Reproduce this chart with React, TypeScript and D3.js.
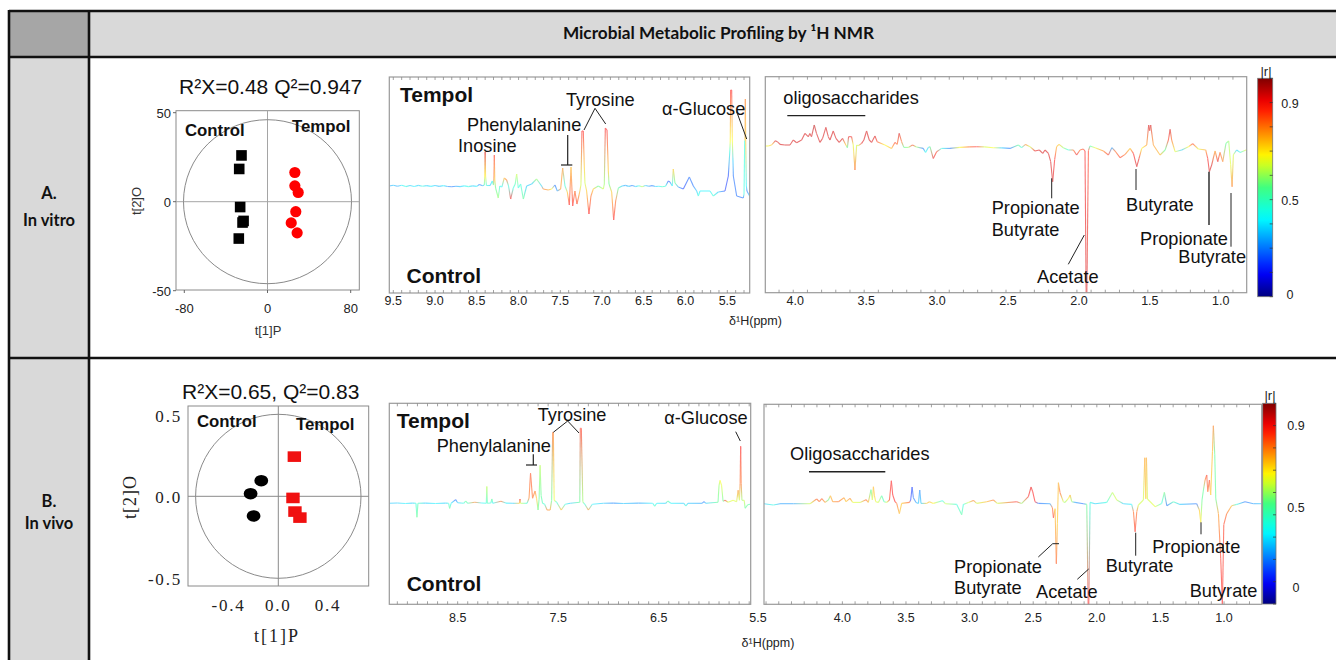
import React from "react";
import * as d3 from "d3";

type P = [number, number, number];

// ---- data: [ppm, intensity, |r| colour position]
const specA1: P[] = [
[9.548,0,.25],[9.5,.8,.3],[9.45,-.3,.25],[9.4,.8,.35],[9.35,-.6,.4],[9.3,.5,.3],[9.25,-.5,.35],[9.2,.6,.3],[9.15,-.2,.4],[9.1,.4,.3],[9.05,-.4,.35],[9,.5,.3],[8.95,-.4,.28],[8.9,.4,.35],[8.85,-.5,.25],[8.8,-.7,.2],[8.75,-.2,.25],[8.7,-.6,.3],[8.65,.1,.35],[8.6,-.6,.4],[8.55,.1,.3],[8.5,-.4,.35],[8.47,1.5,.2],[8.43,.3,.25],[8.41,1,.45],
[8.405,10,.66],[8.4,34,.92],[8.395,10,.66],[8.385,.5,.4],[8.34,.5,.3],[8.315,5,.35],[8.3,1,.5],[8.295,8,.8],[8.29,31,.86],[8.285,6,.7],[8.275,-2,.5],[8.243,-12,.55],[8.225,0,.4],[8.2,-1,.35],[8.171,8,.72],[8.143,6,.8],[8.12,0,.4],[8.095,-13,.88],[8.063,-2,.4],[8.04,2,.45],[8.023,12,.6],[8.003,-2,.4],[7.975,2,.4],[7.943,-13,.5],[7.903,0,.3],[7.843,2,.3],[7.784,7,.55],[7.724,0,.3],[7.704,-3,.78],[7.644,-4,.75],[7.604,-3,.65],[7.564,1,.2],[7.536,-5,.25],[7.496,-3,.75],[7.472,18,.76],[7.444,0,.4],[7.416,-6,.7],[7.392,-19,.88],[7.372,19,.72],[7.352,-20,.88],[7.325,-5,.8],[7.301,-18,.85],[7.273,-8,.75],[7.253,1,.6],[7.241,55,.88],[7.225,55,.88],[7.213,20,.7],[7.205,3,.6],[7.185,-5,.7],[7.157,-28,.88],[7.133,-10,.8],[7.105,-3,.7],[7.045,0,.5],[6.985,-3,.6],[6.973,2,.55],[6.961,58,.88],[6.941,56,.88],[6.925,15,.7],[6.917,2,.5],[6.885,-6,.7],[6.861,-34,.88],[6.837,-15,.8],[6.805,-2,.5],
[6.76,0,.3],[6.72,.6,.25],[6.68,-.4,.3],[6.64,.5,.2],[6.6,-.6,.3],[6.56,.3,.4],[6.52,-.8,.6],[6.48,.5,.3],[6.44,-.3,.25],[6.4,.4,.2],[6.36,-.5,.3],[6.32,-.3,.35],[6.28,-.7,.45],[6.24,-.2,.4],[6.207,5,.15],[6.187,4,.2],[6.159,0,.35],[6.147,17,.7],[6.127,3,.5],[6.087,-1,.25],[6.027,-3,.15],[5.955,9,.2],[5.907,0,.2],[5.867,-5,.3],[5.847,-10,.4],[5.827,-5,.35],[5.708,-5,.35],[5.668,-10,.42],[5.608,-6,.3],[5.528,-5,.15],[5.488,10,.15],[5.47,35,.4],[5.465,45,.64],[5.46,96,.88],[5.448,96,.88],[5.44,45,.64],[5.432,25,.3],[5.428,10,.2],[5.388,-10,.2],[5.309,-12,.2],[5.3,-8,.4],[5.292,45,.4],[5.288,46,.72],[5.284,87,.78],[5.28,46,.7],[5.272,0,.35],[5.265,-5,.2],[5.233,-10,.3]
];

const specA2: P[] = [
[4.197,.7,.62],[4.176,.7,.65],[4.153,1.7,.7],[4.125,6,.92],[4.106,4.3,.92],[4.094,2.3,.92],[4.059,1.7,.92],[4.023,1.7,.92],[4,6.7,.92],[3.976,4,.92],[3.941,6.7,.92],[3.918,13.3,.92],[3.894,10,.92],[3.883,13.3,.92],[3.871,10,.92],[3.852,21.7,.95],[3.836,13.3,.92],[3.812,4.3,.92],[3.793,8.3,.92],[3.77,19.3,.92],[3.753,10,.92],[3.741,6.7,.92],[3.718,15.7,.92],[3.699,8.3,.92],[3.676,4.3,.92],[3.652,8.3,.92],[3.629,1.7,.7],[3.618,-1,.5],[3.61,10,.9],[3.589,10,.9],[3.577,1.7,.62],[3.565,-23.3,.8],[3.553,1.7,.6],[3.542,1,.6],[3.518,3.3,.9],[3.502,6.7,.92],[3.483,15.7,.92],[3.464,6.7,.92],[3.448,4.3,.92],[3.424,10.7,.92],[3.408,5,.85],[3.354,1.7,.64],[3.307,-1.7,.72],[3.283,4.3,.85],[3.267,2.3,.8],[3.253,13.3,.92],[3.236,5,.8],[3.22,-.7,.5],[3.189,-.7,.55],[3.159,1.7,.85],[3.131,-.3,.55],[3.084,-1.7,.2],[3.067,-5.7,.38],[3.048,-.7,.3],[3.036,0,.5],[3.013,-11.7,.9],[2.989,-5,.85],[2.954,-1.7,.4],[2.895,-1.7,.2],[2.825,-.7,.64],[2.76,-.2,.8],[2.707,0,.88],[2.65,-.2,.6],[2.59,-1,.64],[2.53,-1.2,.3],[2.472,-1.7,.2],[2.413,1.7,.5],[2.39,-1,.4],[2.362,2.3,.78],[2.331,0,.6],[2.296,-4.3,.9],[2.265,-3.3,.92],[2.241,-6.7,.92],[2.225,-3.3,.92],[2.201,-6.7,.92],[2.185,-15,.92],[2.171,-35,.92],[2.157,-13,.88],[2.143,0,.72],[2.126,2.3,.7],[2.096,-1,.55],[2.06,-3.3,.4],[2.025,-3.3,.8],[2.002,-8.3,.9],[1.978,-3.3,.8],[1.955,-2.3,.85],[1.943,-4.3,.88],[1.935,-146,.92],[1.93,-146,.92],[1.919,-4,.85],[1.908,.7,.45],[1.872,-1,.62],[1.813,-4.3,.78],[1.778,-8.3,.85],[1.754,-1,.25],[1.731,-4.3,.8],[1.696,-11,.85],[1.66,-7.7,.8],[1.625,-1.7,.7],[1.602,-6.7,.88],[1.578,-20,.92],[1.562,-11.7,.9],[1.543,-1.7,.65],[1.508,1.7,.75],[1.494,21.7,.92],[1.487,16,.92],[1.48,21.7,.92],[1.461,1.7,.75],[1.414,-8.3,.72],[1.378,-3.3,.5],[1.355,6.7,.85],[1.343,17.3,.92],[1.332,6.7,.8],[1.308,-5,.62],[1.261,-3.3,.3],[1.214,0,.65],[1.184,3,.85],[1.144,-2.3,.62],[1.092,-3.3,.75],[1.078,-11.7,.88],[1.066,-25,.92],[1.05,-18.3,.92],[1.026,-4.3,.75],[1.007,-15,.9],[.991,-5.7,.8],[.972,-15,.78],[.949,3.3,.5],[.93,5.7,.55],[.916,-18,.62],[.906,-40,.78],[.897,-8,.6],[.874,-3.3,.3],[.85,-5.7,.4],[.803,-3,.65]
];

const specB1: P[] = [
[9.18,0,.3],[9.1,.3,.3],[9.02,-.2,.35],[8.95,.2,.3],[8.915,0,.4],[8.905,-14,.5],[8.895,0,.45],[8.82,.2,.3],[8.72,-.2,.35],[8.62,.2,.3],[8.59,0,.4],[8.58,-5,.5],[8.565,0,.35],[8.52,3.7,.18],[8.5,.5,.3],[8.44,0,.4],[8.42,2.3,.5],[8.4,0,.45],[8.33,1,.78],[8.26,.3,.35],[8.215,0,.4],[8.21,16.7,.58],[8.205,0,.45],[8.17,.3,.4],[8.16,4.3,.5],[8.15,0,.35],[8.07,2,.8],[8.02,.2,.35],[7.95,0,.3],[7.885,0,.7],[7.88,4.3,.88],[7.875,0,.6],[7.81,0,.4],[7.79,5,.78],[7.775,30,.83],[7.755,5,.8],[7.73,12.3,.78],[7.715,5,.7],[7.7,-6.7,.52],[7.69,4,.5],[7.68,38,.58],[7.67,8,.5],[7.655,0,.45],[7.635,-1,.4],[7.61,-6.7,.78],[7.58,-6.7,.75],[7.565,3,.5],[7.555,71,.8],[7.548,71,.78],[7.54,3,.62],[7.515,1,.4],[7.47,-6.7,.72],[7.43,-1,.4],[7.38,0,.3],[7.285,1,.5],[7.28,75,.86],[7.27,75,.86],[7.255,1.5,.55],[7.235,-1,.4],[7.2,-6.7,.76],[7.16,-1,.35],[7.05,0,.3],[6.95,.2,.22],[6.85,-.2,.3],[6.7,.2,.25],[6.56,0,.35],[6.54,-3,.45],[6.52,0,.35],[6.43,0,.3],[6.41,2.3,.5],[6.38,0,.35],[6.25,0,.3],[6.23,-2.7,.42],[6.21,0,.3],[6.07,0,.25],[6.05,1.7,.2],[6.03,0,.3],[5.91,1,.5],[5.9,18,.55],[5.89,23,.64],[5.875,18,.62],[5.86,2,.5],[5.84,3,.86],[5.81,1,.6],[5.76,3,.62],[5.725,1.5,.6],[5.71,13,.76],[5.697,3,.6],[5.69,20,.8],[5.685,57,.88],[5.68,20,.8],[5.672,3,.55],[5.65,3,.6],[5.64,-5,.5],[5.615,-1.5,.5],[5.59,-1,.45]
];

const specB2: P[] = [
[4.616,0,.3],[4.542,-1.3,.4],[4.49,0,.25],[4.385,0,.25],[4.254,0,.6],[4.202,4.7,.82],[4.181,2,.8],[4.162,5,.82],[4.136,1.3,.75],[4.11,3.7,.5],[4.094,8,.72],[4.076,2,.75],[4.031,2,.8],[3.987,6,.75],[3.971,2,.7],[3.94,5.3,.78],[3.919,1.3,.62],[3.861,1.3,.6],[3.814,4,.82],[3.796,1.3,.72],[3.775,14,.5],[3.764,3.7,.6],[3.756,17,.72],[3.748,8,.7],[3.738,2,.62],[3.717,1.3,.6],[3.691,8,.48],[3.672,2,.45],[3.651,1.3,.6],[3.63,3.7,.85],[3.615,23,.88],[3.604,8.7,.88],[3.586,2,.88],[3.573,.3,.8],[3.552,-10,.72],[3.534,.3,.7],[3.473,1.3,.82],[3.463,3.7,.15],[3.452,16.7,.15],[3.442,6,.2],[3.421,1.3,.25],[3.402,.3,.3],[3.392,13.7,.22],[3.382,.3,.3],[3.337,.3,.7],[3.316,2,.72],[3.285,.3,.65],[3.214,3,.38],[3.19,0,.6],[3.101,-.7,.4],[3.062,-11,.48],[3.049,-.7,.4],[3.01,1.3,.6],[2.97,3.3,.8],[2.944,.3,.6],[2.865,2,.72],[2.813,3.7,.8],[2.782,.3,.6],[2.63,2,.88],[2.59,.3,.55],[2.538,7,.88],[2.517,16.7,.9],[2.504,12,.88],[2.486,2,.88],[2.459,.3,.2],[2.367,0,.25],[2.349,-4,.8],[2.341,-14,.88],[2.328,-5,.7],[2.318,-60,.82],[2.31,-20,.7],[2.302,21,.72],[2.289,11,.82],[2.263,2,.6],[2.25,1.3,.55],[2.223,5.3,.65],[2.21,8.7,.72],[2.197,2,.55],[2.171,1.3,.25],[2.105,0,.2],[2.079,-.7,.5],[2.068,-101,.88],[2.063,-101,.88],[2.053,1.3,.4],[2.014,0,.3],[1.922,1.3,.4],[1.877,11.3,.58],[1.843,3.7,.6],[1.791,0,.3],[1.726,-.7,.35],[1.712,-8,.8],[1.699,-28,.86],[1.686,-8,.8],[1.673,-1.3,.6],[1.634,3.7,.6],[1.623,46,.74],[1.615,5,.7],[1.61,46,.74],[1.602,4.7,.6],[1.542,-3,.62],[1.49,.3,.4],[1.469,11.3,.52],[1.45,-2,.2],[1.398,2,.45],[1.346,-.7,.3],[1.215,0,.2],[1.194,-6.3,.7],[1.183,-18.7,.66],[1.173,3.7,.5],[1.162,13.7,.5],[1.149,23.7,.78],[1.136,28.7,.85],[1.128,12,.8],[1.115,23.7,.85],[1.105,8.7,.7],[1.091,52,.72],[1.084,78,.78],[1.073,49,.5],[1.065,5,.5],[1.044,-10,.75],[1.026,-55,.86],[1.013,-101,.88],[1.002,-21,.85],[.979,-10,.8],[.94,-2,.72],[.9,-.7,.4],[.835,2,.2],[.769,0,.25],[.704,0,.3]
];

const pcaAControl = [[-25, 26], [-27.2, 18.4], [-26.3, -3], [-23, -10.8], [-24, -11.7], [-27.6, -20.7]];
const pcaATempol = [[26.3, 16.4], [26.3, 8.9], [29.5, 5.2], [27.2, -5.6], [22.8, -11.9], [28.5, -17.5]];
const pcaBControl = [[-0.137, 0.096], [-0.223, 0.016], [-0.199, -0.121]];
const pcaBTempol = [[0.129, 0.244], [0.118, -0.01], [0.134, -0.094], [0.174, -0.131]];

const ticksA1 = [9.5, 9, 8.5, 8, 7.5, 7, 6.5, 6, 5.5];
const ticksA2 = [4, 3.5, 3, 2.5, 2, 1.5, 1];
const ticksB1 = [8.5, 7.5, 6.5, 5.5];
const ticksB2 = [4, 3.5, 3, 2.5, 2, 1.5, 1];

const SANS = "'Liberation Sans', Arial, sans-serif";
const SERIF = "'Liberation Serif', 'Times New Roman', serif";
const jet = d3.scaleLinear<string>()
  .domain([0, 0.11, 0.36, 0.5, 0.64, 0.88, 1])
  .range(["#00007f", "#0000ff", "#00ffff", "#40ff80", "#ffff00", "#ff0000", "#7f0000"]);

let gid = 0;

function Spectrum({ data, box, dom, zero, ticks, labelY, labelDx = 0 }: any) {
  const [x0, x1, y0, y1] = box;
  const x = d3.scaleLinear().domain(dom).range([x0, x1]);
  const y = d3.scaleLinear().domain([0, 100]).range([zero, zero - 100]);
  const minor = d3.range(Math.ceil(dom[1] * 10), Math.floor(dom[0] * 10) + 1).map((d) => d / 10);
  const clip = `clip${gid++}`;
  return (
    <g>
      <defs>
        <clipPath id={clip}><rect x={x0} y={y0} width={x1 - x0} height={y1 - y0} /></clipPath>
      </defs>
      <g clipPath={`url(#${clip})`}>
        <g fill="none" strokeWidth={1.1} opacity={0.55} filter="url(#soft)">
          {data.slice(1).map((p: P, i: number) => {
            const q: P = data[i];
            const id = `${clip}s${i}`;
            return (
              <g key={i}>
                <linearGradient id={id} gradientUnits="userSpaceOnUse" x1={x(q[0])} y1={y(q[1])} x2={x(p[0])} y2={y(p[1]) + 0.01}>
                  <stop offset="0" stopColor={jet(q[2])} />
                  <stop offset="1" stopColor={jet(p[2])} />
                </linearGradient>
                <path d={d3.line()([[x(q[0]), y(q[1])], [x(p[0]), y(p[1])]]) as string} stroke={`url(#${id})`} />
              </g>
            );
          })}
        </g>
      </g>
      <rect x={x0} y={y0} width={x1 - x0} height={y1 - y0} fill="none" stroke="#9a9a9a" strokeWidth={1.2} />
      {minor.map((t) => (
        <g key={t} stroke="#8a8a8a" strokeWidth={0.8}>
          <line x1={x(t)} x2={x(t)} y1={y0} y2={y0 + 3} />
          <line x1={x(t)} x2={x(t)} y1={y1} y2={y1 - 3} />
        </g>
      ))}
      {ticks.map((t: number) => (
        <text key={t} x={x(t) + labelDx} y={labelY} textAnchor="middle" fontFamily={SANS} fontSize={12.5} fill="#222">
          {t.toFixed(1)}
        </text>
      ))}
    </g>
  );
}

function ColorBar({ x0, x1, y0, y1, marks, labelX, rx, ry }: any) {
  const id = `bar${gid++}`;
  const stops = d3.range(0, 1.001, 0.05);
  const h = d3.scaleLinear().domain([0, 1]).range([y1, y0]);
  const tickFr = d3.range(0, 1.001, 1 / 9);
  return (
    <g>
      <linearGradient id={id} x1="0" x2="0" y1="1" y2="0">
        {stops.map((s) => <stop key={s} offset={s} stopColor={jet(s)} />)}
      </linearGradient>
      <rect x={x0} y={y0} width={x1 - x0} height={y1 - y0} fill={`url(#${id})`} stroke="#777" strokeWidth={0.8} />
      {tickFr.map((f) => <line key={f} x1={x1 - 3} x2={x1} y1={h(f)} y2={h(f)} stroke="#333" strokeWidth={0.7} />)}
      {marks.map(([l, yy]: [string, number]) => (
        <text key={l} x={labelX} y={yy + 4.5} textAnchor="middle" fontFamily={SANS} fontSize={12.5} fill="#222">{l}</text>
      ))}
      <text x={rx} y={ry} textAnchor="middle" fontFamily={SANS} fontSize={13} fill="#222">|r|</text>
    </g>
  );
}

const T = ({ x, y, s = 18.2, b, c, ...rest }: any) => (
  <text x={x} y={y} fontFamily={SANS} fontSize={s} fontWeight={b ? 700 : 400} fill="#111" {...rest}>{c}</text>
);
const L = ({ pts, w = 1 }: any) => (
  <path d={d3.line()(pts) as string} fill="none" stroke="#222" strokeWidth={w} />
);

function PcaA() {
  const x = d3.scaleLinear().domain([-80, 80]).range([184.3, 350.7]);
  const y = d3.scaleLinear().domain([-50, 50]).range([290.7, 112.7]);
  const box = [176, 359.3, 110.7, 290];
  return (
    <g>
      <rect x={box[0]} y={box[2]} width={box[1] - box[0]} height={box[3] - box[2]} fill="none" stroke="#8a8a8a" strokeWidth={1} />
      <line x1={box[0]} x2={box[1]} y1={y(0)} y2={y(0)} stroke="#a5a5a5" />
      <line x1={x(0)} x2={x(0)} y1={box[2]} y2={box[3]} stroke="#a5a5a5" />
      <ellipse cx={x(0)} cy={y(0)} rx={84} ry={82} fill="none" stroke="#8a8a8a" />
      {[-80, 0, 80].map((t) => (
        <g key={t}>
          <line x1={x(t)} x2={x(t)} y1={box[3]} y2={box[3] + 3} stroke="#666" />
          <text x={x(t)} y={313} textAnchor="middle" fontFamily={SANS} fontSize={13} fill="#222">{t}</text>
        </g>
      ))}
      {[50, 0, -50].map((t) => (
        <g key={t}>
          <line x1={box[0] - 3} x2={box[0]} y1={y(t)} y2={y(t)} stroke="#666" />
          <text x={171} y={y(t) + 5} textAnchor="end" fontFamily={SANS} fontSize={13} fill="#222">{t}</text>
        </g>
      ))}
      {pcaAControl.map((d, i) => (
        <rect key={i} x={x(d[0]) - 5.3} y={y(d[1]) - 5.3} width={10.6} height={10.6} fill="#000" />
      ))}
      {pcaATempol.map((d, i) => (
        <circle key={i} cx={x(d[0])} cy={y(d[1])} r={5.6} fill="#f00" />
      ))}
      <T x={179} y={94} s={21} c="R²X=0.48 Q²=0.947" />
      <T x={185} y={136} s={16.8} b c="Control" />
      <T x={292} y={132} s={16.8} b c="Tempol" />
      <text x={268} y={335} textAnchor="middle" fontFamily={SANS} fontSize={13} fill="#333">t[1]P</text>
      <text transform="translate(141,201) rotate(-90)" textAnchor="middle" fontFamily={SANS} fontSize={13} fill="#333">t[2]O</text>
    </g>
  );
}

function PcaB() {
  const x = d3.scaleLinear().domain([0, 0.4]).range([278.3, 328]);
  const y = d3.scaleLinear().domain([0, 0.5]).range([496.3, 415]);
  const box = [188, 368.7, 406, 586];
  return (
    <g>
      <rect x={box[0]} y={box[2]} width={box[1] - box[0]} height={box[3] - box[2]} fill="none" stroke="#8a8a8a" strokeWidth={1} />
      <line x1={box[0]} x2={box[1]} y1={y(0)} y2={y(0)} stroke="#8a8a8a" />
      <line x1={x(0)} x2={x(0)} y1={box[2]} y2={box[3]} stroke="#8a8a8a" />
      <ellipse cx={x(0)} cy={y(0)} rx={82.7} ry={82} fill="none" stroke="#8a8a8a" />
      {[-0.4, 0, 0.4].map((t) => (
        <text key={t} x={x(t)} y={611} textAnchor="middle" fontFamily={SERIF} fontSize={17} letterSpacing={1.8} fill="#222">{t.toFixed(1)}</text>
      ))}
      {[0.5, 0, -0.5].map((t) => (
        <text key={t} x={182} y={y(t) + 7} textAnchor="end" fontFamily={SERIF} fontSize={17} letterSpacing={1.8} fill="#222">{t.toFixed(1)}</text>
      ))}
      {pcaBControl.map((d, i) => (
        <ellipse key={i} cx={x(d[0])} cy={y(d[1])} rx={6.9} ry={5.8} fill="#000" />
      ))}
      {pcaBTempol.map((d, i) => (
        <rect key={i} x={x(d[0]) - 6.7} y={y(d[1]) - 5.3} width={13.4} height={10.6} fill="#f01010" />
      ))}
      <T x={182} y={399} s={21} c="R²X=0.65, Q²=0.83" />
      <T x={197} y={427} s={16.8} b c="Control" />
      <T x={296} y={430} s={16.8} b c="Tempol" />
      <text x={277} y={642} textAnchor="middle" fontFamily={SERIF} fontSize={18} letterSpacing={2} fill="#222">t[1]P</text>
      <text transform="translate(136,497) rotate(-90)" textAnchor="middle" fontFamily={SERIF} fontSize={18} letterSpacing={1} fill="#222">t[2]O</text>
    </g>
  );
}

function Table() {
  const F = "Lato, 'Open Sans', sans-serif";
  const stroke = { stroke: "#111", strokeWidth: 2.6 };
  return (
    <g>
      <rect x={9} y={11} width={80} height={46} fill="#a6a6a6" />
      <rect x={89} y={11} width={1247} height={46} fill="#d9d9d9" />
      <rect x={9} y={57} width={80} height={603} fill="#d9d9d9" />
      <line x1={9} x2={1336} y1={11} y2={11} {...stroke} />
      <line x1={9} x2={1336} y1={57} y2={57} {...stroke} />
      <line x1={9} x2={1336} y1={358} y2={358} {...stroke} />
      <line x1={9} x2={9} y1={10} y2={660} {...stroke} />
      <line x1={89} x2={89} y1={10} y2={660} {...stroke} />
      <text x={718.5} y={39} textAnchor="middle" fontFamily={F} fontSize={17.2} fontWeight={700} fill="#111">Microbial Metabolic Profiling by ¹H NMR</text>
      <text x={49} y={199} textAnchor="middle" fontFamily={F} fontSize={16.5} fontWeight={700} fill="#111">A.</text>
      <text x={49} y={226} textAnchor="middle" fontFamily={F} fontSize={16.5} fontWeight={700} fill="#111">In vitro</text>
      <text x={49} y={507} textAnchor="middle" fontFamily={F} fontSize={16.5} fontWeight={700} fill="#111">B.</text>
      <text x={49} y={529} textAnchor="middle" fontFamily={F} fontSize={16.5} fontWeight={700} fill="#111">In vivo</text>
    </g>
  );
}

export default function App() {
  gid = 0;
  return (
    <svg width={1336} height={660} viewBox="0 0 1336 660" style={{ position: "absolute", left: 0, top: 0, display: "block", background: "#fff" }}>
      <defs>
        <filter id="soft" filterUnits="userSpaceOnUse" x="380" y="60" width="900" height="560">
          <feGaussianBlur stdDeviation="0.35" />
        </filter>
      </defs>
      <Table />
      <PcaA />
      <PcaB />

      <Spectrum data={specA1} box={[389.3, 749.7, 77, 293]} dom={[9.548, 5.232]} zero={186} ticks={ticksA1} labelY={305} />
      <Spectrum data={specA2} box={[765.3, 1246.7, 76.7, 292.7]} dom={[4.197, 0.803]} zero={146.7} ticks={ticksA2} labelY={305} labelDx={2} />
      <Spectrum data={specB1} box={[389.3, 750.7, 403.3, 604.3]} dom={[9.18, 5.585]} zero={503.3} ticks={ticksB1.slice(0, 3)} labelY={622} />
      <text x={758} y={622} textAnchor="middle" fontFamily={SANS} fontSize={12.5} fill="#222">{ticksB1[3].toFixed(1)}</text>
      <Spectrum data={specB2} box={[764, 1261.7, 404.3, 604.3]} dom={[4.616, 0.704]} zero={503.7} ticks={ticksB2} labelY={622} />

      <ColorBar x0={1257.7} x1={1272.7} y0={78.3} y1={296.7} marks={[["0.9", 103], ["0.5", 200], ["0", 294]]} labelX={1290} rx={1266} ry={76} />
      <ColorBar x0={1262.7} x1={1276} y0={403.3} y1={604} marks={[["0.9", 425], ["0.5", 507.7], ["0", 587]]} labelX={1296} rx={1270} ry={400} />

      {/* annotations A */}
      <T x={400} y={102} s={21} b c="Tempol" />
      <T x={406.5} y={282.5} s={21} b c="Control" />
      <T x={566} y={106} c="Tyrosine" />
      <T x={467} y={130.5} c="Phenylalanine" />
      <T x={458} y={152} c="Inosine" />
      <T x={662} y={114.5} c="α-Glucose" />
      <L pts={[[584, 130], [595, 108.3], [605.7, 124]]} />
      <L pts={[[561, 165], [572.3, 165]]} w={1.2} />
      <L pts={[[567.7, 135], [567.7, 165]]} w={1.2} />
      <L pts={[[736.7, 111.7], [746.7, 139]]} />
      <T x={783.3} y={104.3} c="oligosaccharides" />
      <L pts={[[787.3, 115.7], [865.3, 115.7]]} w={1.2} />
      <T x={991.7} y={214} c="Propionate" />
      <T x={991.7} y={236} c="Butyrate" />
      <T x={1037} y={283} c="Acetate" />
      <L pts={[[1051.7, 178.3], [1051.7, 198.3]]} />
      <L pts={[[1084.3, 235], [1068.3, 264.3]]} />
      <T x={1126} y={210.7} c="Butyrate" />
      <L pts={[[1136, 169], [1136, 190]]} />
      <T x={1140} y={245} c="Propionate" />
      <L pts={[[1209, 171.7], [1209, 225]]} w={1.4} />
      <T x={1178.3} y={263.3} c="Butyrate" />
      <L pts={[[1231, 193], [1231, 246.7]]} />
      <text x={755.5} y={325} textAnchor="middle" fontFamily={SANS} fontSize={12.5} fill="#222">δ¹H(ppm)</text>

      {/* annotations B */}
      <T x={396.7} y={428.3} s={21} b c="Tempol" />
      <T x={406.7} y={590.5} s={21} b c="Control" />
      <T x={537.7} y={421} c="Tyrosine" />
      <T x={436.7} y={451.7} c="Phenylalanine" />
      <T x={664.3} y={423.5} c="α-Glucose" />
      <L pts={[[553.3, 432.3], [567.7, 421], [579, 433]]} />
      <L pts={[[526, 465], [537, 465]]} w={1.2} />
      <L pts={[[533.3, 454.3], [533.3, 465]]} w={1.2} />
      <L pts={[[735.7, 431.7], [740.3, 441]]} />
      <T x={790} y={460} c="Oligosaccharides" />
      <L pts={[[809, 471.7], [885.3, 471.7]]} w={1.4} />
      <T x={954} y={572.7} c="Propionate" />
      <T x={954} y={594.3} c="Butyrate" />
      <T x={1036} y={598.3} c="Acetate" />
      <L pts={[[1038.3, 557], [1052.7, 543.7], [1059, 543.7]]} />
      <L pts={[[1077.3, 579.3], [1088.7, 569]]} />
      <T x={1105.7} y={572.3} c="Butyrate" />
      <L pts={[[1135.7, 532.7], [1135.7, 555.7]]} />
      <T x={1152.3} y={552.7} c="Propionate" />
      <L pts={[[1201, 522.3], [1201, 534.3]]} />
      <T x={1189.7} y={597} c="Butyrate" />
      <text x={768} y={647} textAnchor="middle" fontFamily={SANS} fontSize={12.5} fill="#222">δ¹H(ppm)</text>
    </svg>
  );
}
